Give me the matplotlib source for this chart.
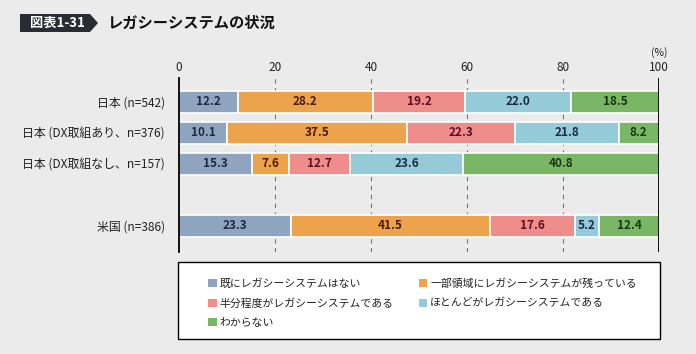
import matplotlib.pyplot as plt
import matplotlib.patches as patches
import numpy as np

plt.rcParams['font.family'] = ['Noto Sans CJK JP', 'DejaVu Sans']

categories = ['日本 (n=542)', '日本 (DX取組あり、n=376)', '日本 (DX取組なし、n=157)', '米国 (n=386)']
ypos = [0, 1, 2, 4]
series = ['既にレガシーシステムはない', '一部領域にレガシーシステムが残っている',
          '半分程度がレガシーシステムである', 'ほとんどがレガシーシステムである', 'わからない']
values = [
    [12.2, 10.1, 15.3, 23.3],
    [28.2, 37.5, 7.6, 41.5],
    [19.2, 22.3, 12.7, 17.6],
    [22.0, 21.8, 23.6, 5.2],
    [18.5, 8.2, 40.8, 12.4],
]
colors = ['#8ea4bf', '#eda24c', '#ef8d8b', '#95cad8', '#79b766']
text_colors = ['#1c2a48', '#4a1a08', '#5a1020', '#1c2a48', '#1a3512']
bg = '#ebebeb'

fig = plt.figure(figsize=(6.96, 3.54), dpi=100, facecolor=bg)
ax = fig.add_axes([179/696, 1-252/354, 480/696, 174/354])
ax.set_facecolor(bg)

left = np.zeros(len(categories))
handles = []
for vals, c, tc, name in zip(values, colors, text_colors, series):
    bars = ax.barh(ypos, vals, left=left, height=0.71, color=c,
                   edgecolor='white', linewidth=1.2, label=name)
    handles.append(bars)
    for y, l, v in zip(ypos, left, vals):
        ax.text(l + v/2, y, f'{v:.1f}', ha='center', va='center',
                fontsize=8.5, color=tc, fontweight='bold')
    left += np.array(vals)

ax.set_xlim(0, 100)
ax.set_ylim(4.84, -0.77)
ax.set_yticks(ypos)
ax.set_yticklabels(categories, fontsize=8.6, color='#222222')
ax.tick_params(axis='y', length=0, pad=10)
ax.xaxis.tick_top()
ax.set_xticks([0, 20, 40, 60, 80, 100])
ax.tick_params(axis='x', length=0, labelsize=8.5, pad=3, colors='#222222')
for x in [20, 40, 60, 80]:
    ax.axvline(x, color='#777777', linewidth=0.8, linestyle=(0, (4, 4)), zorder=0)
for s in ['top', 'bottom', 'right']:
    ax.spines[s].set_visible(False)
ax.spines['left'].set_linewidth(1.3)
ax.axvline(100, color='black', linewidth=1.3)
fig.text(659/696, 1-53/354, '(%)', ha='center', va='center', fontsize=7.5, color='#222222')

# legend box
fig.patches.append(patches.Rectangle((178/696, 1-339/354), 482/696, 77/354,
                                     transform=fig.transFigure, facecolor='white',
                                     edgecolor='black', linewidth=1.0))
order = [0, 2, 4, 1, 3]
leg = fig.legend([handles[i] for i in order], [series[i] for i in order],
                 ncol=2, loc='upper left', bbox_to_anchor=(203/696, 1-273/354),
                 frameon=False, fontsize=7.8, handlelength=0.75, handleheight=0.75,
                 handletextpad=0.25, columnspacing=2.4, labelspacing=0.85,
                 borderpad=0)
for t in leg.get_texts():
    t.set_color('#222222')
for h in leg.legend_handles:
    h.set_edgecolor('none')

# title banner
fig.patches.append(patches.Polygon([(20/696, 1-14/354), (90/696, 1-14/354),
                                    (98/696, 1-23/354), (90/696, 1-32/354),
                                    (20/696, 1-32/354)], closed=True,
                                   transform=fig.transFigure, facecolor='#2b2b35',
                                   edgecolor='none'))
fig.text(57/696, 1-23/354, '図表1-31', ha='center', va='center', color='white',
         fontsize=9.5, fontweight='bold')
fig.text(107/696, 1-23/354, 'レガシーシステムの状況', ha='left', va='center',
         color='#111111', fontsize=11, fontweight='bold')

fig.savefig('out.png', dpi=100, facecolor=bg)
